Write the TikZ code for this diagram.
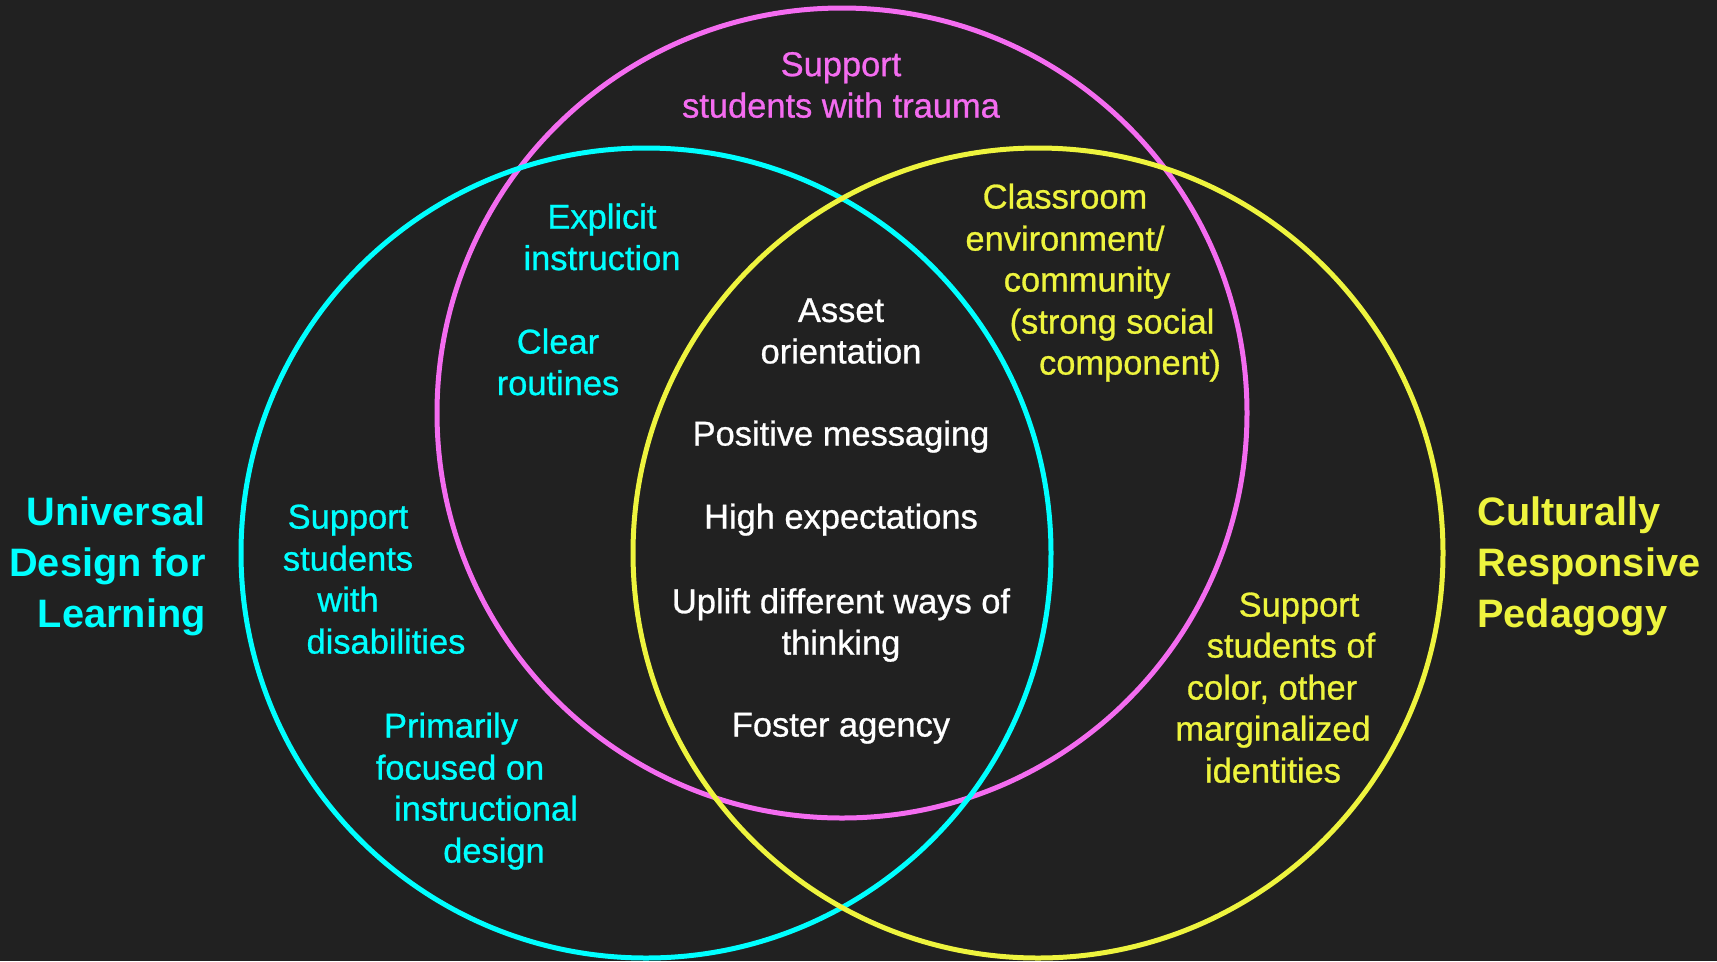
\documentclass[tikz,border=0pt]{standalone}
\usepackage{fontspec}
\setmainfont{Liberation Sans}
\newfontfamily\medfont{Liberation Sans}[FakeBold=0.8]
\usepackage{xcolor}
\usetikzlibrary{positioning}

\definecolor{bgdark}{HTML}{212121}
\definecolor{udlcyan}{HTML}{00FFFF}
\definecolor{traumapink}{HTML}{F46CF0}
\definecolor{crpyellow}{HTML}{EEF43E}

\begin{document}
\begin{tikzpicture}[
  x=0.02cm, y=-0.02cm,
  ring/.style={draw, line width=0.1cm},
  txt/.style={align=center, inner sep=0pt, font=\medfont\fontsize{19.6}{23.6}\selectfont},
  line/.style={txt, text height=1.2em, text depth=0pt},
  title/.style={inner sep=0pt, font=\fontsize{22.6}{29}\selectfont\bfseries}
]
  % Background
  \fill[bgdark] (0,0) rectangle (1717,961);
  \useasboundingbox (0,0) rectangle (1717,961);

  % Circles
  \draw[ring, traumapink] (842,413) circle[radius=405];
  \draw[ring, udlcyan] (646,553) circle[radius=405];
  \draw[ring, crpyellow] (1038,553) circle[radius=405];

  % Titles
  \node[title, udlcyan, align=right, anchor=east] (udl) at (206,566)
    {Universal\\Design for\\Learning};
  \node[title, crpyellow, align=left, anchor=west] (crp) at (1477,566)
    {Culturally\\Responsive\\Pedagogy};

  % Trauma circle
  \node[txt, traumapink] (trauma) at (841,85) {Support\\students with trauma};

  % UDL and trauma overlap
  \node[txt, udlcyan] (explicit) at (602,237) {Explicit\\instruction};
  \node[txt, udlcyan] (routines) at (558,362) {Clear\\routines};

  % UDL only
  \foreach \x/\y/\t [count=\i] in {348/518/Support, 348/560/students,
      348/601/with, 386/643/disabilities}
    \node[line, udlcyan] (disab-\i) at (\x,\y) {\t};
  \foreach \x/\y/\t [count=\i] in {451/727/Primarily, 460/769/focused on,
      486/810/instructional, 494/852/design}
    \node[line, udlcyan] (focus-\i) at (\x,\y) {\t};

  % CRP and trauma overlap
  \foreach \x/\y/\t [count=\i] in {1065/198/Classroom, 1065/240/{environment/},
      1087/281/community, 1112/323/(strong social, 1130/364/component)}
    \node[line, crpyellow] (room-\i) at (\x,\y) {\t};

  % CRP only
  \foreach \x/\y/\t [count=\i] in {1299/606/Support, 1291/647/students of,
      1272/689/{color, other}, 1273/730/marginalized, 1273/772/identities}
    \node[line, crpyellow] (color-\i) at (\x,\y) {\t};

  % Shared centre
  \node[txt, white] (asset) at (841,331) {Asset\\orientation};
  \node[line, white] (positive) at (841,435) {Positive messaging};
  \node[line, white] (high) at (841,518) {High expectations};
  \node[txt, white] (uplift) at (841,625) {Uplift different ways of\\thinking};
  \node[line, white] (agency) at (841,726) {Foster agency};
\end{tikzpicture}
\end{document}
